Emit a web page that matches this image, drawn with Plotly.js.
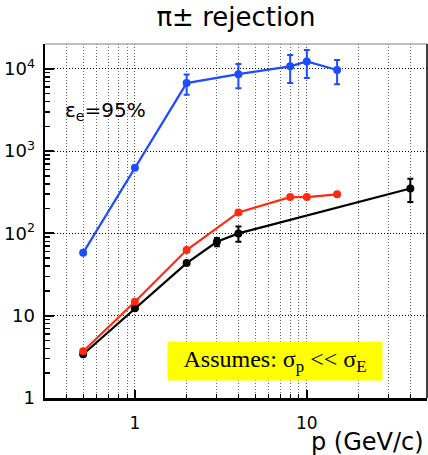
<!DOCTYPE html>
<html>
<head>
<meta charset="utf-8">
<script src="https://cdn.plot.ly/plotly-3.0.1.min.js"></script>
<style>html,body{margin:0;padding:0;background:#fff;}</style>
</head>
<body>
<div id="chart" style="width:428px;height:455px;"></div>
<script>
// ---- data ----
const blueX = [0.5, 1, 2, 4, 8, 10, 15];
const blueY = [58, 626, 6700, 8600, 10700, 12300, 9650];
const blueErr = [0, 0, 1850, 2800, 4000, 4600, 3150];

const redX = [0.5, 1, 2, 4, 8, 10, 15];
const redY = [3.7, 14.8, 62.7, 180, 276, 276, 298];

const blackX = [0.5, 1, 2, 3, 4, 40];
const blackY = [3.4, 12.3, 43.6, 79, 100, 351];
const blackErr = [0, 0, 0, 9, 21, 110];

const xTickVals = [1, 10];
const xTickText = ['1', '10'];
const yTickVals = [1, 10, 100, 1000, 10000];
const yTickText = ['1', '10', '10<sup>2</sup>', '10<sup>3</sup>', '10<sup>4</sup>'];

const titleText = 'π± rejection';
const xTitleText = 'p (GeV/c)';
const effText = 'ε<sub>e</sub>=95%';
const noteText = 'Assumes: σ<sub>p</sub> &lt;&lt; σ<sub>E</sub>';

// minor tick positions (2..9 within each decade)
const xMinor = [];
[0.1, 1, 10].forEach(d => { for (let m = 2; m <= 9; m++) { const v = m * d; if (v >= 0.3 && v <= 50 && v !== 1 && v !== 10) xMinor.push(v); } });
const yMinor = [];
[1, 10, 100, 1000].forEach(d => { for (let m = 2; m <= 9; m++) yMinor.push(m * d); });

const BLUE = '#1e4cff', RED = '#ff2a10', BLACK = '#000000';
const FONT = 'DejaVu Sans, Liberation Sans, Arial, sans-serif';

function series(x, y, err, color) {
  const t = {
    x: x, y: y, type: 'scatter', mode: 'lines+markers',
    line: {color: color, width: 2.2},
    marker: {color: color, size: 8, symbol: 'circle'},
    hoverinfo: 'skip', showlegend: false
  };
  if (err) t.error_y = {type: 'data', array: err, visible: true, color: color, thickness: 2, width: 3};
  return t;
}

const data = [
  series(blackX, blackY, blackErr, BLACK),
  series(redX, redY, null, RED),
  series(blueX, blueY, blueErr, BLUE)
];

const W = 428, H = 455, L = 45, R = 1, T = 44, B = 57;
const pw = W - L - R, ph = H - T - B;

const layout = {
  width: W, height: H,
  margin: {l: L, r: R, t: T, b: B, pad: 0},
  paper_bgcolor: '#fff', plot_bgcolor: '#fff',
  font: {family: FONT, color: '#000', size: 17},
  title: {text: titleText, x: 0.5, xanchor: 'center', xref: 'paper', y: 1 - 17 / H, yref: 'container', yanchor: 'middle',
          font: {family: FONT, size: 26, color: '#000'}},
  xaxis: {
    type: 'log', range: [Math.log10(0.3), Math.log10(50)],
    tickmode: 'array', tickvals: xTickVals, ticktext: xTickText,
    ticks: 'inside', ticklen: 8, tickwidth: 1.5, tickcolor: '#000',
    showline: true, linecolor: '#000', linewidth: 2.5, mirror: false,
    showgrid: true, gridcolor: '#555', griddash: '1px,2px', gridwidth: 1,
    zeroline: false, tickfont: {family: FONT, size: 17},
    ticklabelstandoff: 8,
    minor: {tickmode: 'array', tickvals: xMinor, ticks: 'inside', ticklen: 4, tickwidth: 1, tickcolor: '#000',
            showgrid: true, gridcolor: '#666', griddash: '1px,2px', gridwidth: 1}
  },
  yaxis: {
    type: 'log', range: [0, Math.log10(20000)],
    tickmode: 'array', tickvals: yTickVals, ticktext: yTickText,
    ticks: 'inside', ticklen: 9, tickwidth: 2, tickcolor: '#000',
    showline: true, linecolor: '#000', linewidth: 2.5, mirror: false,
    showgrid: true, gridcolor: '#000', griddash: '1px,2px', gridwidth: 1,
    zeroline: false, tickfont: {family: FONT, size: 18},
    ticklabelstandoff: 4,
    minor: {tickmode: 'array', tickvals: yMinor, ticks: 'inside', ticklen: 5, tickwidth: 1.5, tickcolor: '#000', showgrid: false}
  },
  shapes: [
    {type: 'line', xref: 'paper', yref: 'paper', x0: 0, x1: 1, y0: 1, y1: 1, line: {color: '#aaa', width: 1.5}},
    {type: 'line', xref: 'paper', yref: 'paper', x0: 1, x1: 1, y0: 0, y1: 1, line: {color: '#000', width: 1.5}}
  ],
  annotations: [
    {text: effText, xref: 'paper', yref: 'paper', x: (63 - L) / pw, y: (H - B - 111) / ph, xanchor: 'left', yanchor: 'middle',
     showarrow: false, font: {family: FONT, size: 20, color: '#000'}},
    {text: noteText, xref: 'paper', yref: 'paper', x: (275 - L) / pw, y: (H - B - 361) / ph, xanchor: 'center', yanchor: 'middle',
     showarrow: false, bgcolor: '#ffff00', width: 214, height: 38, borderpad: 0, align: 'center', valign: 'middle',
     font: {family: 'Liberation Serif, Times New Roman, serif', size: 24, color: '#000'}},
    {text: xTitleText, xref: 'paper', yref: 'paper', x: (426 - L) / pw, y: (H - B - 442) / ph, xanchor: 'right', yanchor: 'middle',
     showarrow: false, font: {family: FONT, size: 24, color: '#000'}}
  ]
};

Plotly.newPlot('chart', data, layout, {staticPlot: true, displayModeBar: false});
</script>
</body>
</html>
